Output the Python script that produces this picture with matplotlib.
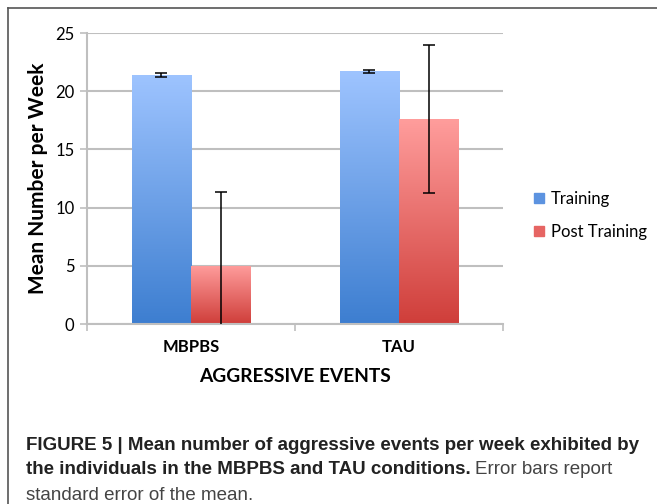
import matplotlib.pyplot as plt
import numpy as np
from matplotlib.colors import LinearSegmentedColormap
from matplotlib.lines import Line2D

# data
conditions = ['MBPBS', 'TAU']
training = [21.4, 21.7]
training_err = [0.15, 0.15]
post_training = [5.0, 17.6]
post_err = [6.3, 6.35]
series_labels = ['Training', 'Post Training']

fig = plt.figure(figsize=(6.57, 5.04), dpi=100)
ax = fig.add_axes([0.1324, 0.3571, 0.6332, 0.5774])

x = np.arange(len(conditions))
w = 0.284
blue = LinearSegmentedColormap.from_list('b', ['#3D7ED0', '#9EC4FF'])
red = LinearSegmentedColormap.from_list('r', ['#CF3E3A', '#FF9D9C'])

b1 = ax.bar(x - w / 2, training, w, color='none', zorder=2)
b2 = ax.bar(x + w / 2, post_training, w, color='none', zorder=2)

# vertical gradient inside every bar
grad = np.linspace(0, 1, 256).reshape(-1, 1)
for bars, cmap in [(b1, blue), (b2, red)]:
    for p in bars:
        bx, by = p.get_x(), p.get_y()
        bw, bh = p.get_width(), p.get_height()
        im = ax.imshow(grad, cmap=cmap, origin='lower', aspect='auto',
                       extent=[bx, bx + bw, by, by + bh], zorder=2)
        im.set_clip_path(p)

ax.errorbar(x - w / 2, training, yerr=training_err, fmt='none', ecolor='black',
            elinewidth=1.1, capsize=4, capthick=1.1, zorder=3)
ax.errorbar(x + w / 2, post_training, yerr=post_err, fmt='none', ecolor='black',
            elinewidth=1.1, capsize=4, capthick=1.1, zorder=3)

ax.set_xlim(-0.5, 1.5)
ax.set_ylim(0, 25)
ax.set_yticks([0, 5, 10, 15, 20, 25])
ax.yaxis.grid(True, color='#BFBFBF', linewidth=1.5, zorder=0)
ax.set_axisbelow(True)

for s in ['top', 'right']:
    ax.spines[s].set_visible(False)
for s in ['left', 'bottom']:
    ax.spines[s].set_color('#BFBFBF')
    ax.spines[s].set_linewidth(1.5)

ax.tick_params(axis='y', length=5, color='#BFBFBF', width=1.2, labelsize=12, pad=4)
ax.set_yticklabels([str(v) for v in [0, 5, 10, 15, 20, 25]], fontfamily='Lato')

# category ticks at boundaries, labels at centres
ax.set_xticks([-0.5, 0.5, 1.5])
ax.set_xticklabels([])
ax.tick_params(axis='x', length=5, color='#BFBFBF', width=1.2)
ax.set_xticks(x, minor=True)
ax.set_xticklabels(conditions, minor=True, fontfamily='Lato', fontweight='bold', fontsize=12)
ax.tick_params(axis='x', which='minor', length=0, pad=11)

ax.set_ylabel('Mean Number per Week', fontfamily='Lato', fontweight='bold', fontsize=15, labelpad=5)
ax.set_xlabel('AGGRESSIVE EVENTS', fontfamily='Lato', fontweight='bold', fontsize=13.8, labelpad=9)

handles = [plt.Rectangle((0, 0), 1, 1, color='#5C93E0'),
           plt.Rectangle((0, 0), 1, 1, color='#E66563')]
fig.legend(handles, series_labels, loc='upper left', bbox_to_anchor=(0.813, 0.621),
           frameon=False, prop={'family': 'Lato', 'size': 12},
           handlelength=0.6, handleheight=0.6, handletextpad=0.4, labelspacing=1.0,
           borderpad=0, borderaxespad=0)

# frame around the figure panel (top and left visible)
fig.add_artist(Line2D([8 / 657, 8 / 657], [0, 1 - 8 / 504], color='#555555', linewidth=1.2))
fig.add_artist(Line2D([8 / 657, 1], [1 - 8 / 504, 1 - 8 / 504], color='#555555', linewidth=1.2))

cap_font = ['Liberation Sans Narrow', 'Liberation Sans']
fig.text(26 / 657, 1 - 445 / 504, 'FIGURE 5 | Mean number of aggressive events per week exhibited by',
         fontfamily=cap_font, fontweight='bold', fontsize=13.5, va='center', color='#222222')
t = fig.text(26 / 657, 1 - 470 / 504, 'the individuals in the MBPBS and TAU conditions.',
             fontfamily=cap_font, fontweight='bold', fontsize=13.5, va='center', color='#222222')
fig.canvas.draw()
bb = t.get_window_extent()
fig.text(bb.x1 / fig.bbox.width + 0.006, 1 - 470 / 504, 'Error bars report',
         fontfamily=cap_font, fontsize=13.5, va='center', color='#444444')
fig.text(26 / 657, 1 - 495 / 504, 'standard error of the mean.',
         fontfamily=cap_font, fontsize=13.5, va='center', color='#444444')

fig.savefig('out.png', dpi=100)
